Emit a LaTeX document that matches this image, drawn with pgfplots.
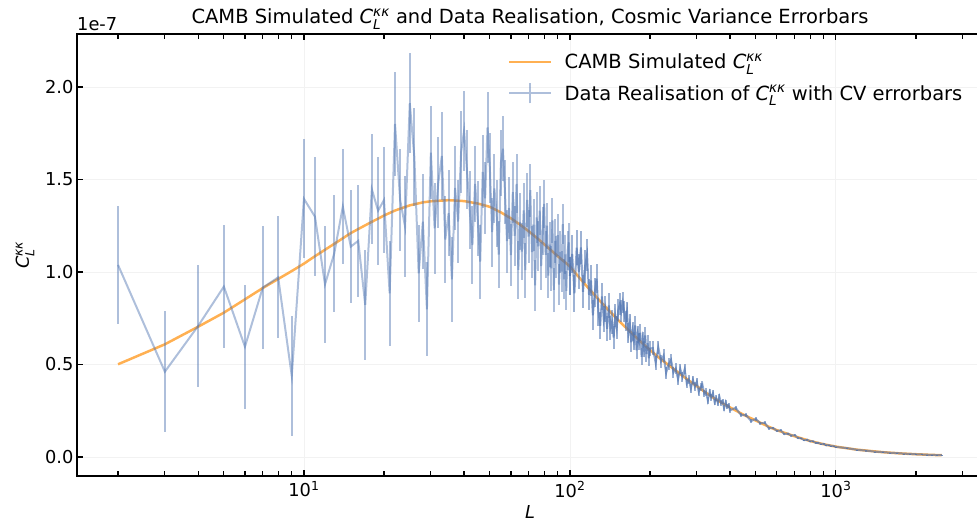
\documentclass[border=0pt]{standalone}
\usepackage{fontspec}
\setmainfont{DejaVu Sans}
\usepackage{amsmath}
\usepackage{pgfplots}
\pgfplotsset{compat=1.18}
\usepackage{pgfplotstable}
\definecolor{dblue}{RGB}{76,114,176}
\definecolor{lorange}{RGB}{255,176,82}
\newcommand{\Ckk}{\textit{C}$_{\textit{L}}^{\textit{κκ}}$}
\newcommand{\fs}{\fontsize{17.8}{21}\selectfont}
\newcommand{\fl}{\fontsize{19.5}{23}\selectfont}

\pgfplotstableread{
L C
2 0.501
3 0.609
4 0.704
5 0.780
6 0.852
7 0.913
8 0.962
9 1.005
10 1.045
11 1.085
12 1.120
13 1.152
14 1.182
15 1.210
16 1.232
17 1.252
18 1.271
19 1.288
20 1.305
22 1.332
25 1.360
28 1.376
30 1.382
35 1.388
40 1.383
45 1.370
50 1.352
55 1.322
60 1.290
65 1.255
70 1.220
75 1.185
80 1.150
85 1.117
90 1.085
95 1.057
100 1.030
110 0.959
120 0.897
130 0.842
140 0.792
150 0.748
160 0.708
170 0.672
180 0.638
190 0.607
200 0.578
220 0.528
240 0.487
260 0.448
280 0.413
300 0.383
325 0.347
350 0.316
375 0.290
400 0.268
450 0.228
500 0.197
560 0.163
600 0.145
700 0.112
800 0.0864
900 0.0688
1000 0.056
1200 0.0397
1500 0.026
1750 0.0194
2000 0.015
2250 0.0118
2500 0.0096
}\theory

\pgfplotstableread{
L C e
2 1.038 0.317
3 0.461 0.326
4 0.708 0.332
5 0.921 0.333
6 0.596 0.334
7 0.915 0.333
8 0.971 0.330
9 0.438 0.326
10 1.395 0.322
11 1.299 0.320
12 0.933 0.317
13 1.100 0.314
14 1.353 0.310
15 1.137 0.307
16 1.168 0.303
17 0.822 0.299
18 1.447 0.296
19 1.331 0.292
20 1.389 0.288
21 0.885 0.285
22 1.800 0.281
23 1.389 0.277
24 1.245 0.273
25 1.912 0.269
26 1.623 0.265
27 0.993 0.261
28 1.272 0.258
29 0.798 0.254
30 1.645 0.250
31 1.236 0.247
32 1.484 0.244
33 1.627 0.240
34 1.175 0.237
35 1.318 0.234
36 0.960 0.231
37 1.454 0.227
38 1.273 0.224
39 1.648 0.220
40 1.763 0.217
41 1.552 0.214
42 1.336 0.211
43 1.145 0.209
44 1.476 0.206
45 1.289 0.203
46 1.056 0.200
47 1.541 0.198
48 1.398 0.195
49 1.781 0.193
50 1.561 0.190
51 1.215 0.187
52 1.451 0.185
53 1.316 0.182
54 1.094 0.180
55 1.588 0.177
56 1.666 0.175
57 1.430 0.173
58 1.167 0.170
59 1.346 0.168
60 1.091 0.166
61 1.431 0.164
62 1.195 0.162
63 1.476 0.159
64 1.011 0.157
65 1.271 0.155
66 1.110 0.153
67 1.332 0.151
68 1.010 0.149
69 1.389 0.147
70 1.191 0.145
71 1.442 0.143
72 1.107 0.142
73 1.255 0.140
74 0.928 0.139
75 1.295 0.137
76 1.138 0.135
77 1.331 0.133
78 1.032 0.132
79 1.222 0.130
80 1.368 0.128
81 1.092 0.127
82 1.250 0.125
83 0.981 0.124
84 1.148 0.122
85 1.020 0.121
86 1.279 0.120
87 0.903 0.118
88 1.168 0.117
89 1.080 0.115
90 1.199 0.114
91 0.932 0.113
92 1.108 0.112
93 1.002 0.110
94 1.259 0.109
95 0.960 0.108
96 1.095 0.107
97 0.898 0.106
98 1.115 0.105
99 1.160 0.104
100 0.979 0.103
}\datalow

\pgfplotstableread{
L C e
100 0.979 0.103
102 1.097 0.1007
104 0.884 0.0983
106 1.131 0.0960
108 1.001 0.0936
110 1.132 0.0913
112 0.893 0.0894
114 1.030 0.0874
116 1.093 0.0855
118 0.876 0.0836
120 0.954 0.0817
122 0.766 0.0801
124 0.891 0.0785
126 0.964 0.0769
128 0.785 0.0753
130 0.709 0.0737
132 0.868 0.0723
134 0.744 0.0709
136 0.798 0.0696
138 0.693 0.0682
140 0.819 0.0668
142 0.698 0.0656
144 0.729 0.0645
146 0.646 0.0633
148 0.763 0.0622
150 0.699 0.0610
152 0.794 0.0600
154 0.826 0.0590
156 0.788 0.0579
158 0.835 0.0569
160 0.786 0.0559
162 0.734 0.0550
164 0.786 0.0541
166 0.670 0.0533
168 0.721 0.0524
170 0.620 0.0515
172 0.680 0.0507
174 0.628 0.0499
176 0.711 0.0491
178 0.577 0.0483
180 0.662 0.0475
182 0.623 0.0468
184 0.672 0.0461
186 0.542 0.0453
188 0.631 0.0446
190 0.585 0.0439
192 0.657 0.0433
194 0.557 0.0427
196 0.615 0.0420
198 0.534 0.0414
200 0.586 0.0408
205 0.589 0.0394
210 0.510 0.0380
215 0.592 0.0368
220 0.517 0.0355
225 0.548 0.0344
230 0.454 0.0334
235 0.503 0.0324
240 0.525 0.0314
245 0.457 0.0305
250 0.479 0.0295
255 0.420 0.0286
260 0.476 0.0277
265 0.433 0.0269
270 0.474 0.0261
275 0.398 0.0254
280 0.420 0.0247
285 0.371 0.0240
290 0.417 0.0234
295 0.380 0.0228
300 0.407 0.0221
305 0.353 0.0215
310 0.378 0.0209
315 0.391 0.0203
320 0.342 0.0198
325 0.351 0.0192
330 0.306 0.0187
335 0.350 0.0182
340 0.323 0.0178
345 0.344 0.0173
350 0.297 0.0169
355 0.318 0.0165
360 0.293 0.0161
365 0.325 0.0157
370 0.292 0.0153
375 0.301 0.0150
380 0.264 0.0147
385 0.295 0.0143
390 0.271 0.0140
395 0.280 0.0137
400 0.252 0.0134
420 0.266 0.0122
440 0.226 0.0112
460 0.226 0.0103
480 0.194 0.0095
500 0.206 0.0088
520 0.182 0.0081
540 0.185 0.0074
560 0.155 0.0069
580 0.157 0.0064
600 0.141 0.0059
620 0.144 0.0055
640 0.124 0.0051
660 0.127 0.0048
680 0.116 0.0045
700 0.118 0.0042
720 0.1025 0.0039
740 0.1012 0.0037
760 0.0909 0.0035
780 0.0934 0.0033
800 0.0849 0.0030
820 0.0856 0.0029
840 0.0759 0.0027
860 0.0759 0.0026
880 0.0704 0.0024
900 0.0709 0.0023
920 0.0633 0.0022
940 0.0643 0.0021
960 0.0601 0.0020
980 0.0596 0.0019
1000 0.0546 0.0018
1100 0.0481 0.0014
1200 0.0390 0.0011
1300 0.0345 0.0009
1400 0.0289 0.0008
1500 0.0265 0.0007
1600 0.0228 0.0006
1700 0.0211 0.0005
1800 0.0181 0.0004
1900 0.0167 0.0004
2000 0.0148 0.0003
2100 0.0138 0.0003
2200 0.0123 0.0003
2300 0.0114 0.0002
2400 0.0104 0.0002
2500 0.0096 0.0002
}\datahigh

\begin{document}
\begin{tikzpicture}
\begin{axis}[
  at={(0pt,0pt)}, anchor=south west,
  scale only axis, width=906pt, height=442pt,
  xmode=log, xmin=1.402, xmax=3574, ymin=-0.1027, ymax=2.286,
  clip mode=individual,
  axis line style={draw=none},
  tick align=inside, xtick pos=both, ytick pos=both,
  xticklabel pos=lower, yticklabel pos=left,
  major tick length=6pt, minor tick length=5pt,
  every tick/.style={black, line width=1.2pt},
  xtick={10,100,1000},
  minor xtick={2,3,4,5,6,7,8,9,20,30,40,50,60,70,80,90,200,300,400,500,600,700,800,900,2000,3000},
  xticklabels={10$^{\text{1}}$,10$^{\text{2}}$,10$^{\text{3}}$},
  ytick={0,0.5,1,1.5,2},
  minor ytick={},
  yticklabel style={/pgf/number format/.cd, fixed, fixed zerofill, precision=1, assume math mode=true},
  tick label style={font=\fs},
  xticklabel style={yshift=-2pt},
  grid=major, major grid style={line width=0.8pt, color=black!5},
  title={CAMB Simulated \Ckk{} and Data Realisation, Cosmic Variance Errorbars},
  title style={font=\fl, at={(0.5,1)}, anchor=base, yshift=4pt},
  xlabel={\textit{L}},
  xlabel style={font=\fs, at={(0.5,0)}, anchor=base, yshift=-42pt},
  legend style={draw=none, fill=none, font=\fl, at={(0.4757,0.960)}, anchor=north west,
    row sep=10pt, column sep=10pt, cells={anchor=west}, inner sep=0pt},
]
\addplot[lorange, line width=2.5pt, no markers,
  legend image code/.code={\draw[lorange, line width=2.5pt] (0pt,0pt) -- (42pt,0pt);}]
  table[x=L, y=C] {\theory};
\addlegendentry{CAMB Simulated \Ckk}
\addplot[dblue, draw opacity=0.45, line width=2pt, no markers,
  legend image code/.code={\draw[dblue, draw opacity=0.45, line width=2pt] (0pt,0pt) -- (42pt,0pt) (21pt,-10pt) -- (21pt,10pt);},
  error bars/.cd, y dir=both, y explicit, error mark=none,
  error bar style={line width=2pt, dblue, draw opacity=0.45}]
  table[x=L, y=C, y error=e] {\datalow};
\addlegendentry{Data Realisation of \Ckk{} with CV errorbars}
\addplot[dblue, draw opacity=0.6, line width=2pt, no markers, forget plot,
  error bars/.cd, y dir=both, y explicit, error mark=none,
  error bar style={line width=2pt, dblue, draw opacity=0.55}]
  table[x=L, y=C, y error=e] {\datahigh};
\draw[black, line width=1.5pt] (rel axis cs:1,1) -- (rel axis cs:0,1) -- (rel axis cs:0,0) -- (rel axis cs:1,0);
\node[anchor=base west, inner sep=0pt, font=\fs] at (rel axis cs:0,1) [yshift=4pt] {1e-7};
\node[anchor=center, inner sep=0pt, font=\fs, rotate=90] at ([xshift=-52pt]rel axis cs:0,0.5) {\Ckk};
\end{axis}
\pgfresetboundingbox
\path[use as bounding box] (-77pt,-47pt) rectangle (900pt,476pt);
\end{tikzpicture}
\end{document}
